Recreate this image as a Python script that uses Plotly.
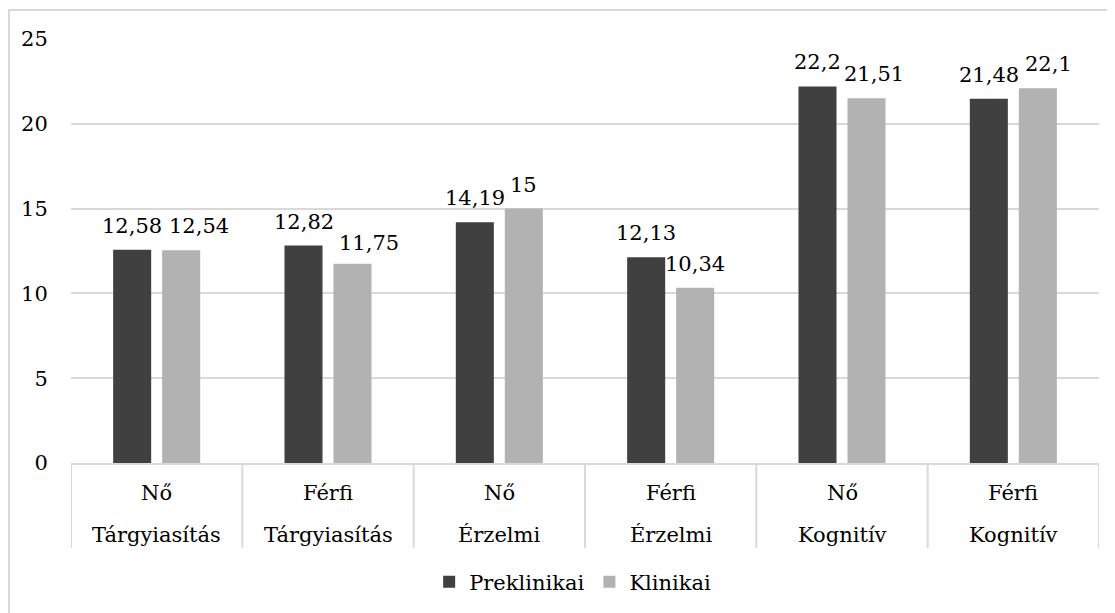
import plotly.graph_objects as go

# Data
genders = ["Nő", "Férfi", "Nő", "Férfi", "Nő", "Férfi"]
dimensions = ["Tárgyiasítás", "Tárgyiasítás", "Érzelmi", "Érzelmi", "Kognitív", "Kognitív"]
preklinikai = [12.58, 12.82, 14.19, 12.13, 22.2, 21.48]
klinikai = [12.54, 11.75, 15, 10.34, 21.51, 22.1]
series_names = ["Preklinikai", "Klinikai"]
y_ticks = [0, 5, 10, 15, 20, 25]

# label nudges (px), as placed in the original chart
klinikai_label_dx = [18, 16, 0, 0, 7.5, 10.5]
klinikai_label_dy = [0, -3, 0, 0, 0, 0]

categories = [f"{g} {d}" for g, d in zip(genders, dimensions)]

FONT = "DejaVu Serif"
FS = 21
GRID = "#d9d9d9"
COLORS = ["#404040", "#b2b2b2"]

def fmt(v):
    s = f"{v:g}"
    return s.replace(".", ",")

fig = go.Figure()
for name, vals, col in zip(series_names, [preklinikai, klinikai], COLORS):
    fig.add_trace(go.Bar(x=categories, y=vals, name=name, marker_color=col,
                         marker_line_width=0, hoverinfo="x+y"))

annotations = []
shift = 24.5
BASE_DY = 10
for c, v in zip(categories, preklinikai):
    annotations.append(dict(x=c, y=v, xref="x", yref="y", text=fmt(v),
                            showarrow=False, xshift=-shift, yshift=BASE_DY,
                            yanchor="bottom", xanchor="center",
                            font=dict(family=FONT, size=FS, color="#000")))
for c, v, dx, dy in zip(categories, klinikai, klinikai_label_dx, klinikai_label_dy):
    annotations.append(dict(x=c, y=v, xref="x", yref="y", text=fmt(v),
                            showarrow=False, xshift=shift + dx, yshift=BASE_DY + dy,
                            yanchor="bottom", xanchor="center",
                            font=dict(family=FONT, size=FS, color="#000")))

for c, g, d in zip(categories, genders, dimensions):
    annotations.append(dict(x=c, y=-0.0708, xref="x", yref="paper", text=g,
                            showarrow=False, yanchor="middle",
                            font=dict(family=FONT, size=FS, color="#000")))
    annotations.append(dict(x=c, y=-0.170, xref="x", yref="paper", text=d,
                            showarrow=False, yanchor="middle",
                            font=dict(family=FONT, size=FS, color="#000")))

shapes = []
for i in range(len(categories) + 1):
    shapes.append(dict(type="line", xref="x", yref="paper", x0=i - 0.5, x1=i - 0.5,
                       y0=0, y1=-0.2005, line=dict(color=GRID, width=2)))
shapes.append(dict(type="rect", xref="paper", yref="paper", x0=-0.0603, x1=1.2,
                   y0=1.0684, y1=-0.6, line=dict(color=GRID, width=2),
                   fillcolor="rgba(0,0,0,0)", layer="below"))

fig.update_layout(
    width=1115, height=613,
    margin=dict(l=63, r=24, t=31, b=158),
    paper_bgcolor="white", plot_bgcolor="white",
    barmode="group", bargap=0.428, bargroupgap=0.224,
    font=dict(family=FONT, size=FS, color="#000"),
    showlegend=True,
    legend=dict(orientation="h", x=0.488, xanchor="center", y=-0.2807, yanchor="middle",
                font=dict(family=FONT, size=FS, color="#000"), itemwidth=30,
                bgcolor="rgba(0,0,0,0)"),
    annotations=annotations,
    shapes=shapes,
    xaxis=dict(showticklabels=False, showgrid=False, showline=True, linecolor=GRID,
               linewidth=2, ticks="", zeroline=False, range=[-0.5, 5.5]),
    yaxis=dict(range=[0, 25], tickvals=y_ticks, showgrid=True, gridcolor=GRID,
               gridwidth=2, zeroline=False, showline=False, ticks="outside",
               ticklen=18, tickcolor="rgba(0,0,0,0)",
               tickfont=dict(family=FONT, size=FS, color="#000")),
)

fig.write_html("out.html")
